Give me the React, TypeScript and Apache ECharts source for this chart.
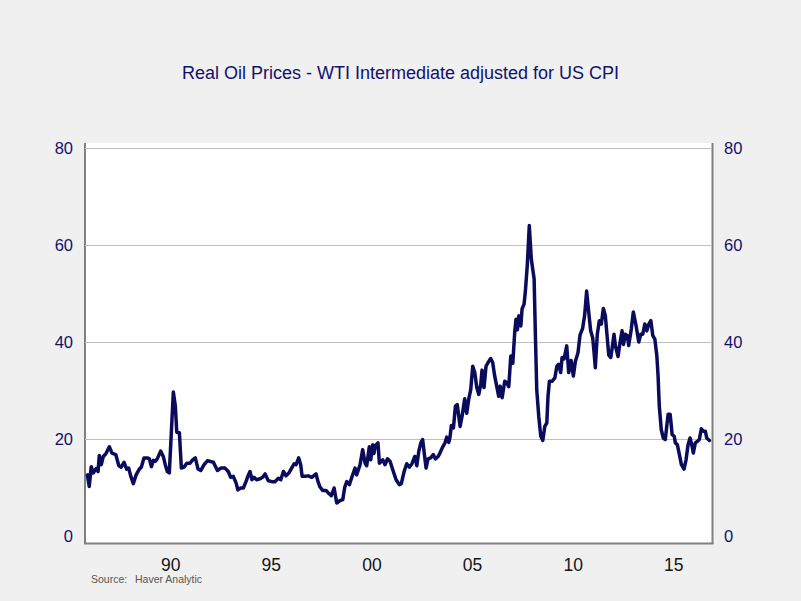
import React, { useEffect, useRef } from "react";
import * as echarts from "echarts";

const titleText = "Real Oil Prices - WTI Intermediate adjusted for US CPI";
const sourceLabel = "Source:";
const sourceName = "Haver Analytic";
const xTickYears = [1990, 1995, 2000, 2005, 2010, 2015];
const yMin = 0;
const yMax = 80;
const yStep = 20;

const years = [
  1985.86, 1985.95, 1986.05, 1986.15, 1986.29, 1986.39, 1986.45, 1986.55, 1986.65, 1986.78,
  1986.95, 1987.08, 1987.27, 1987.42, 1987.54, 1987.68, 1987.81, 1987.91, 1988.01, 1988.14,
  1988.28, 1988.44, 1988.54, 1988.67, 1988.84, 1988.94, 1989.04, 1989.14, 1989.23, 1989.33,
  1989.5, 1989.63, 1989.73, 1989.83, 1989.93, 1990.03, 1990.13, 1990.23, 1990.3, 1990.43,
  1990.53, 1990.66, 1990.8, 1990.96, 1991.09, 1991.22, 1991.36, 1991.49, 1991.66, 1991.82,
  1991.95, 1992.12, 1992.32, 1992.49, 1992.7, 1992.86, 1992.98, 1993.11, 1993.25, 1993.34,
  1993.48, 1993.61, 1993.74, 1993.86, 1993.94, 1994.04, 1994.14, 1994.27, 1994.44, 1994.57,
  1994.69, 1994.85, 1995.02, 1995.18, 1995.35, 1995.47, 1995.6, 1995.73, 1995.89, 1996.01,
  1996.13, 1996.23, 1996.36, 1996.46, 1996.53, 1996.68, 1996.84, 1997.01, 1997.22, 1997.32,
  1997.42, 1997.55, 1997.72, 1997.85, 1997.98, 1998.12, 1998.25, 1998.41, 1998.55, 1998.65,
  1998.75, 1998.88, 1999.0, 1999.16, 1999.24, 1999.41, 1999.54, 1999.66, 1999.74, 1999.87,
  1999.94, 2000.04, 2000.1, 2000.17, 2000.3, 2000.37, 2000.54, 2000.65, 2000.77, 2000.9,
  2001.03, 2001.2, 2001.36, 2001.46, 2001.6, 2001.73, 2001.86, 2001.99, 2002.13, 2002.23,
  2002.33, 2002.43, 2002.52, 2002.62, 2002.69, 2002.79, 2002.92, 2003.05, 2003.15, 2003.29,
  2003.38, 2003.52, 2003.63, 2003.72, 2003.82, 2003.88, 2003.95, 2004.05, 2004.15, 2004.24,
  2004.38, 2004.48, 2004.61, 2004.71, 2004.81, 2004.91, 2005.01, 2005.11, 2005.21, 2005.31,
  2005.41, 2005.47, 2005.57, 2005.67, 2005.79, 2005.9, 2006.0, 2006.1, 2006.2, 2006.3,
  2006.37, 2006.47, 2006.6, 2006.7, 2006.8, 2006.9, 2007.0, 2007.1, 2007.16, 2007.23,
  2007.3, 2007.4, 2007.46, 2007.56, 2007.62, 2007.72, 2007.82, 2007.92, 2008.06, 2008.12,
  2008.19, 2008.29, 2008.39, 2008.49, 2008.59, 2008.69, 2008.75, 2008.82, 2008.95, 2009.09,
  2009.19, 2009.28, 2009.38, 2009.45, 2009.55, 2009.68, 2009.78, 2009.9, 2010.01, 2010.11,
  2010.24, 2010.34, 2010.47, 2010.57, 2010.67, 2010.77, 2010.87, 2010.97, 2011.04, 2011.1,
  2011.2, 2011.3, 2011.4, 2011.5, 2011.6, 2011.7, 2011.77, 2011.87, 2011.93, 2012.03,
  2012.1, 2012.23, 2012.33, 2012.43, 2012.5, 2012.59, 2012.69, 2012.76, 2012.89, 2012.99,
  2013.13, 2013.26, 2013.36, 2013.46, 2013.56, 2013.66, 2013.76, 2013.86, 2013.96, 2014.06,
  2014.16, 2014.22, 2014.28, 2014.38, 2014.48, 2014.58, 2014.65, 2014.72, 2014.82, 2014.92,
  2015.02, 2015.08, 2015.18, 2015.28, 2015.38, 2015.51, 2015.61, 2015.71, 2015.81, 2015.91,
  2015.97, 2016.07, 2016.17, 2016.27, 2016.37, 2016.47, 2016.57, 2016.64, 2016.77,
];

const prices = [
  12.6, 10.2, 14.3, 13.0, 13.9, 13.3, 16.6, 14.7, 16.4, 17.0,
  18.4, 17.1, 16.8, 14.5, 14.2, 15.2, 13.8, 14.0, 12.4, 10.8,
  12.6, 13.8, 14.2, 16.1, 16.1, 15.9, 14.3, 15.6, 15.4, 15.9,
  17.5, 16.4, 14.7, 13.3, 13.0, 21.3, 29.7, 26.8, 21.4, 21.3,
  14.0, 14.2, 15.0, 15.0, 15.7, 16.1, 13.8, 13.5, 14.7, 15.5,
  15.4, 15.2, 13.5, 14.0, 14.0, 13.3, 12.1, 12.3, 10.9, 9.5,
  9.9, 9.9, 11.2, 12.6, 13.3, 11.6, 12.1, 11.6, 11.8, 12.1,
  12.8, 11.4, 11.2, 11.2, 11.9, 11.6, 13.3, 12.4, 13.1, 14.0,
  14.9, 14.7, 16.1, 14.7, 12.3, 12.3, 12.4, 12.1, 12.8, 11.2,
  10.1, 9.4, 9.4, 8.8, 8.3, 9.9, 6.8, 7.3, 7.5, 10.1,
  11.2, 10.6, 12.1, 14.0, 12.6, 14.7, 17.8, 15.0, 14.5, 18.4,
  15.7, 18.8, 17.0, 18.6, 19.2, 15.0, 15.7, 14.7, 15.9, 15.4,
  13.7, 11.6, 10.6, 10.8, 13.3, 14.9, 14.2, 14.9, 16.4, 14.5,
  17.5, 19.2, 19.9, 16.4, 14.0, 15.9, 16.1, 16.8, 15.9, 16.4,
  17.1, 18.4, 19.2, 20.4, 19.3, 20.4, 22.8, 22.3, 26.8, 27.1,
  22.6, 24.7, 28.3, 25.3, 28.2, 30.2, 35.0, 33.7, 30.6, 29.2,
  31.3, 34.2, 30.6, 35.0, 35.9, 36.6, 35.8, 33.0, 30.9, 28.8,
  30.9, 28.5, 31.9, 31.6, 30.8, 37.1, 35.6, 42.3, 44.7, 42.5,
  45.4, 43.3, 46.8, 47.8, 50.2, 55.8, 64.0, 57.1, 53.0, 42.0,
  30.2, 24.7, 20.6, 19.7, 22.6, 23.3, 28.8, 31.9, 31.9, 32.6,
  35.0, 35.4, 33.7, 36.8, 36.5, 39.2, 33.7, 36.2, 33.0, 36.0,
  37.8, 41.4, 42.8, 45.5, 50.5, 46.3, 42.3, 40.9, 37.8, 34.7,
  41.6, 44.4, 43.7, 46.9, 45.4, 40.6, 37.3, 36.8, 38.5, 41.6,
  39.2, 37.0, 39.9, 42.3, 39.5, 41.6, 41.3, 39.3, 42.7, 46.2,
  43.3, 40.0, 41.6, 41.6, 43.7, 42.3, 43.7, 44.4, 41.3, 40.6,
  37.1, 33.0, 26.8, 21.9, 20.2, 19.9, 22.6, 25.1, 25.1, 20.9,
  20.6, 19.2, 18.8, 16.8, 14.7, 13.8, 15.7, 18.8, 20.2, 18.5,
  17.1, 19.2, 19.5, 19.9, 22.1, 21.6, 21.6, 20.2, 19.7,
];

const xMin = 1985.74;
const xMax = 2016.9;

export default function App() {
  const ref = useRef<HTMLDivElement>(null);

  useEffect(() => {
    document.body.style.margin = "0";
    if (!ref.current) return;
    const chart = echarts.init(ref.current, null, { renderer: "svg" });

    const gridLeft = 85;
    const gridRight = 712;
    const gridTop = 148;
    const gridBottom = 536;
    const font = "Liberation Sans, Arial, sans-serif";
    const navy = "#12126c";
    const axisGray = "#808080";

    chart.setOption({
      animation: false,
      backgroundColor: "#f0f0f0",
      title: {
        text: titleText,
        left: "center",
        top: 59,
        textStyle: {
          fontFamily: font,
          fontSize: 18,
          fontWeight: "normal",
          color: navy,
        },
      },
      grid: {
        left: gridLeft,
        right: 801 - gridRight,
        top: gridTop,
        bottom: 601 - gridBottom,
        containLabel: false,
        outerBoundsMode: "none",
      },
      xAxis: {
        type: "value",
        min: xMin,
        max: xMax,
        axisLine: { show: false },
        axisTick: { show: false },
        splitLine: { show: false },
        axisLabel: {
          customValues: xTickYears,
          formatter: (v: number) => String(Math.round(v)).slice(2),
          color: "#151515",
          fontFamily: font,
          fontSize: 17.5,
          lineHeight: 13,
          margin: 22,
        },
      },
      yAxis: [
        {
          type: "value",
          position: "left",
          min: yMin,
          max: yMax,
          interval: yStep,
          axisLine: { show: false },
          axisTick: { show: false },
          splitLine: {
            show: true,
            showMinLine: false,
            lineStyle: { color: "#c0c0c0", width: 1 },
          },
          axisLabel: {
            color: navy,
            fontFamily: font,
            fontSize: 16.5,
            margin: 12,
          },
        },
        {
          type: "value",
          position: "right",
          min: yMin,
          max: yMax,
          interval: yStep,
          axisLine: { show: false },
          axisTick: { show: false },
          splitLine: { show: false },
          axisLabel: {
            color: navy,
            fontFamily: font,
            fontSize: 16.5,
            margin: 12,
          },
        },
      ],
      graphic: [
        {
          type: "rect",
          z: -10,
          silent: true,
          shape: { x: gridLeft, y: 143, width: gridRight - gridLeft, height: 400 },
          style: { fill: "#ffffff" },
        },
        {
          type: "line",
          silent: true,
          shape: { x1: gridLeft, y1: 143, x2: gridLeft, y2: 544 },
          style: { stroke: axisGray, lineWidth: 2 },
        },
        {
          type: "line",
          silent: true,
          shape: { x1: gridRight + 0.5, y1: 143, x2: gridRight + 0.5, y2: 544 },
          style: { stroke: axisGray, lineWidth: 2 },
        },
        {
          type: "line",
          silent: true,
          shape: { x1: gridLeft - 1, y1: 543.5, x2: gridRight + 1.5, y2: 543.5 },
          style: { stroke: axisGray, lineWidth: 2 },
        },
        {
          type: "text",
          silent: true,
          x: 91,
          y: 579,
          style: {
            text: sourceLabel,
            fontFamily: font,
            fontSize: 10.5,
            lineHeight: 9,
            fill: "#555555",
            verticalAlign: "middle",
          },
        },
        {
          type: "text",
          silent: true,
          x: 135,
          y: 579,
          style: {
            text: sourceName,
            fontFamily: font,
            fontSize: 10.5,
            lineHeight: 9,
            fill: "#555555",
            verticalAlign: "middle",
          },
        },
      ],
      series: [
        {
          type: "line",
          data: years.map((y, i) => [y, prices[i]]),
          showSymbol: false,
          symbol: "none",
          smooth: false,
          lineStyle: { color: "#0b0b5c", width: 3.5, join: "round", cap: "round" },
          z: 3,
        },
      ],
    });

    return () => chart.dispose();
  }, []);

  return (
    <div
      ref={ref}
      style={{ position: "absolute", left: 0, top: 0, width: 801, height: 601 }}
    />
  );
}
